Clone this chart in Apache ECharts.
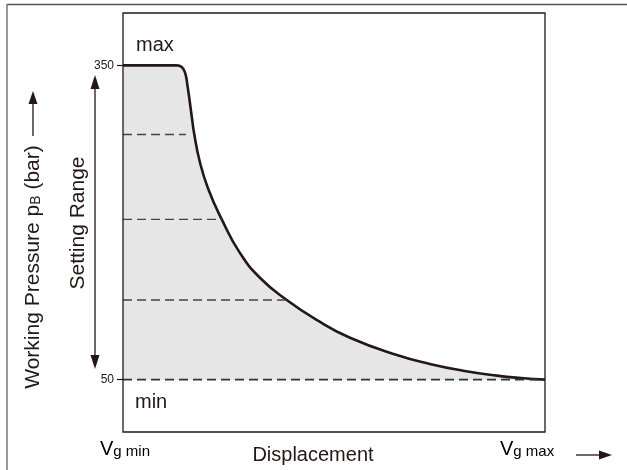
<!DOCTYPE html>
<html>
<head>
<meta charset="utf-8">
<script src="https://cdn.jsdelivr.net/npm/echarts@6/dist/echarts.min.js"></script>
<style>
html,body{margin:0;padding:0;background:#fff;}
#c{width:627px;height:470px;}
</style>
</head>
<body>
<div id="c"></div>
<script>
// Displacement (0 = Vg min, 100 = Vg max) and working pressure (bar) along the limit curve
var curveX = [0, 12.7, 13.9, 14.7, 15.2, 16.3, 16.9, 18.2, 20.2, 23.4, 27.7, 32.5, 38.8, 45.9, 53.8, 64.9, 72.7, 80.6, 88.6, 94.3, 100];
var curveY = [350, 350, 348.5, 343, 333, 301, 284, 258, 232, 203, 171, 147, 126, 107, 90, 73.5, 65, 58.5, 53.8, 51.5, 50];
// Dashed setting levels (bar) and where each dashed line ends (displacement)
var dashLevels = [284, 203, 126, 50];
var dashEnds = [14.9, 23.4, 38.8, 100];
// Tick labels on the pressure axis
var pressureTicks = [50, 350];
var pressureMin = 0, pressureMax = 400;

var FONT = 'Liberation Sans, Arial, sans-serif';
var INK = '#231815';

var chart = echarts.init(document.getElementById('c'));

var series = [{
  type: 'line',
  data: curveX.map(function (x, i) { return [x, curveY[i]]; }),
  showSymbol: false,
  smooth: 0.5,
  lineStyle: { color: INK, width: 2.6 },
  areaStyle: { color: '#e6e6e6', opacity: 1, origin: 50 },
  z: 2,
  silent: true
}];
dashLevels.forEach(function (lv, i) {
  series.push({
    type: 'line',
    data: [[0, lv], [dashEnds[i], lv]],
    showSymbol: false,
    lineStyle: { color: i === 3 ? '#333' : '#444', width: i === 3 ? 1.8 : 1.3, type: [9, 5] },
    z: 3,
    silent: true
  });
});

var gl = 123, gt = 13, gr = 82, gb = 38;
var gw = 627 - gl - gr, gh = 470 - gt - gb;

chart.setOption({
  animation: false,
  backgroundColor: '#fff',
  grid: { left: gl, right: gr, top: gt, bottom: gb, show: false },
  xAxis: { type: 'value', min: 0, max: 100, show: false },
  yAxis: {
    type: 'value', min: pressureMin, max: pressureMax,
    axisLine: { show: false },
    splitLine: { show: false },
    axisTick: { show: true, customValues: pressureTicks, length: 6, lineStyle: { color: INK, width: 1.2 } },
    axisLabel: { customValues: pressureTicks, fontSize: 12, color: INK, fontFamily: FONT, margin: 9 }
  },
  series: series,
  graphic: [
    // outer frame (top and left)
    { type: 'line', shape: { x1: 7, y1: 4.5, x2: 627, y2: 4.5 }, style: { stroke: '#555', lineWidth: 1.5 }, z: 50 },
    { type: 'line', shape: { x1: 7, y1: 4, x2: 7, y2: 470 }, style: { stroke: '#777', lineWidth: 1.5 }, z: 50 },
    // plot box
    { type: 'rect', shape: { x: gl, y: gt, width: gw, height: gh }, style: { fill: 'none', stroke: INK, lineWidth: 1.3 }, z: 60 },
    // max / min labels
    { type: 'text', x: 136, y: 45, style: { text: 'max', font: '20px ' + FONT, fill: INK, verticalAlign: 'middle' }, z: 60 },
    { type: 'text', x: 135, y: 402, style: { text: 'min', font: '20px ' + FONT, fill: INK, verticalAlign: 'middle' }, z: 60 },
    // Setting range double arrow
    { type: 'line', shape: { x1: 95, y1: 86, x2: 95, y2: 357 }, style: { stroke: INK, lineWidth: 1.3 }, z: 60 },
    { type: 'polygon', shape: { points: [[95, 75], [90.5, 89], [99.5, 89]] }, style: { fill: INK }, z: 60 },
    { type: 'polygon', shape: { points: [[95, 369], [90.5, 355], [99.5, 355]] }, style: { fill: INK }, z: 60 },
    { type: 'text', x: 78, y: 223, rotation: Math.PI / 2,
      style: { text: 'Setting Range', font: '21px ' + FONT, fill: INK, align: 'center', verticalAlign: 'middle' }, z: 60 },
    // Working pressure label and arrow
    { type: 'text', x: 33, y: 267, rotation: Math.PI / 2,
      style: { text: '{a|Working Pressure p}{b|B}{a| (bar)}', align: 'center', verticalAlign: 'middle',
        rich: { a: { fontSize: 21, fontFamily: FONT, fill: INK, color: INK, verticalAlign: 'bottom' },
                b: { fontSize: 14, fontFamily: FONT, fill: INK, color: INK, verticalAlign: 'bottom' } } }, z: 60 },
    { type: 'line', shape: { x1: 33, y1: 136, x2: 33, y2: 102 }, style: { stroke: INK, lineWidth: 1.3 }, z: 60 },
    { type: 'polygon', shape: { points: [[33, 91], [28.5, 104], [37.5, 104]] }, style: { fill: INK }, z: 60 },
    // x labels
    { type: 'text', x: 100, y: 459, style: { text: '{v|V}{s|g min}', verticalAlign: 'bottom',
        rich: { v: { fontSize: 20, fontFamily: FONT, color: INK, verticalAlign: 'bottom' },
                s: { fontSize: 15, fontFamily: FONT, color: INK, verticalAlign: 'bottom' } } }, z: 60 },
    { type: 'text', x: 313, y: 455, style: { text: 'Displacement', font: '20px ' + FONT, fill: INK, align: 'center', verticalAlign: 'middle' }, z: 60 },
    { type: 'text', x: 500, y: 459, style: { text: '{v|V}{s|g max}', verticalAlign: 'bottom',
        rich: { v: { fontSize: 20, fontFamily: FONT, color: INK, verticalAlign: 'bottom' },
                s: { fontSize: 15, fontFamily: FONT, color: INK, verticalAlign: 'bottom' } } }, z: 60 },
    { type: 'line', shape: { x1: 576, y1: 455, x2: 601, y2: 455 }, style: { stroke: INK, lineWidth: 1.3 }, z: 60 },
    { type: 'polygon', shape: { points: [[612, 455], [599, 450.5], [599, 459.5]] }, style: { fill: INK }, z: 60 }
  ]
});
</script>
</body>
</html>
